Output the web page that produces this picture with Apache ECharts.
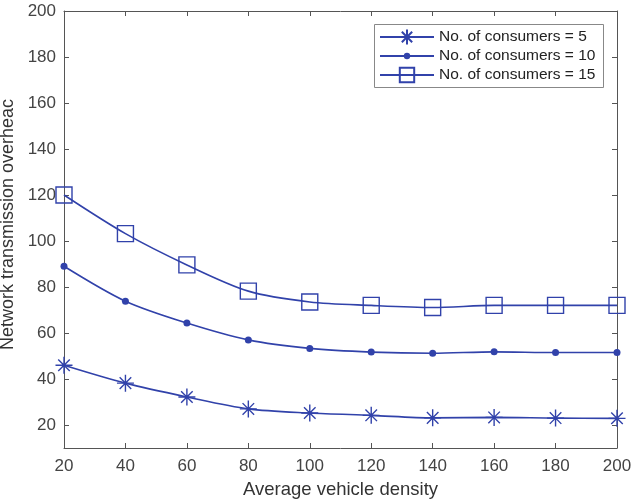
<!DOCTYPE html>
<html>
<head>
<meta charset="utf-8">
<script src="https://cdn.jsdelivr.net/npm/echarts@6/dist/echarts.min.js"></script>
<style>html,body{margin:0;padding:0;background:#fff}#c{width:632px;height:503px}</style>
</head>
<body>
<div id="c"></div>
<script>
const densities = [20, 40, 60, 80, 100, 120, 140, 160, 180, 200];
const consumers5 = [46, 38.2, 32.2, 27, 25.2, 24.2, 23.1, 23.3, 23, 22.9];
const consumers10 = [89, 73.8, 64.3, 57, 53.3, 51.7, 51.2, 51.8, 51.5, 51.5];
const consumers15 = [120, 103.2, 89.6, 78.2, 73.5, 72, 71.1, 72, 72, 72];
const yTicks = [20, 40, 60, 80, 100, 120, 140, 160, 180, 200];
const seriesNames = ['No. of consumers = 5', 'No. of consumers = 10', 'No. of consumers = 15'];

const BLUE = '#3142aa';
const AX = '#555';
const FONT = 'Liberation Sans';
const star = 'path://M5,0L5,10M0,5L10,5M1.6,1.6L8.4,8.4M1.6,8.4L8.4,1.6';

function pairs(vals) { return densities.map((d, i) => [d, vals[i]]); }

const chart = echarts.init(document.getElementById('c'), null, {renderer: 'canvas'});
const baseX = {type: 'value', min: 20, max: 200, interval: 20, splitLine: {show: false},
  axisLine: {lineStyle: {color: AX, width: 1}}, axisTick: {inside: true, length: 5, lineStyle: {color: AX}}};
const baseY = {type: 'value', min: 10, max: 200, splitLine: {show: false},
  axisLine: {show: true, lineStyle: {color: AX, width: 1}},
  axisTick: {show: true, inside: true, length: 5, customValues: yTicks, lineStyle: {color: AX}}};

function legendRow(name, top, itemHeight) {
  return {
    left: 379, top: top, orient: 'vertical', itemWidth: 54, itemHeight: itemHeight, itemGap: 0,
    padding: 0, selectedMode: false,
    textStyle: {fontSize: 15.5, color: '#222', fontFamily: FONT, lineHeight: 18},
    data: [name]
  };
}

chart.setOption({
  animation: false,
  backgroundColor: '#fff',
  textStyle: {fontFamily: FONT},
  grid: {left: 64, right: 15, top: 11, bottom: 55, containLabel: false, outerBoundsMode: 'none'},
  graphic: [{type: 'rect', z: 3, left: 374, top: 24,
    shape: {width: 229, height: 63}, style: {fill: '#fff', stroke: '#888', lineWidth: 1}}],
  legend: [
    legendRow(seriesNames[0], 28, 19),
    legendRow(seriesNames[1], 47, 8),
    legendRow(seriesNames[2], 66, 18)
  ],
  xAxis: [
    Object.assign({}, baseX, {position: 'bottom', name: 'Average vehicle density', nameLocation: 'middle', nameGap: 32,
      nameTextStyle: {fontSize: 18.5, color: '#333', fontFamily: FONT},
      axisLabel: {fontSize: 17, color: '#444', margin: 10, fontFamily: FONT}}),
    Object.assign({}, baseX, {position: 'top', axisLabel: {show: false}})
  ],
  yAxis: [
    Object.assign({}, baseY, {position: 'left', name: 'Network transmission overheac', nameLocation: 'middle', nameGap: 40,
      nameTextStyle: {fontSize: 18, color: '#333', fontFamily: FONT, padding: [0, 0, 0, 10]},
      axisLabel: {fontSize: 17, color: '#444', margin: 8, customValues: yTicks, fontFamily: FONT}}),
    Object.assign({}, baseY, {position: 'right', axisLabel: {show: false}})
  ],
  series: [
    {name: seriesNames[0], type: 'line', data: pairs(consumers5), smooth: 0.3,
      symbol: star, symbolSize: 17, color: BLUE,
      lineStyle: {color: BLUE, width: 1.6},
      itemStyle: {color: 'rgba(0,0,0,0)', borderColor: BLUE, borderWidth: 1.4}},
    {name: seriesNames[1], type: 'line', data: pairs(consumers10), smooth: 0.3,
      symbol: 'circle', symbolSize: 7, color: BLUE,
      lineStyle: {color: BLUE, width: 1.6},
      itemStyle: {color: BLUE, borderColor: BLUE, borderWidth: 0}},
    {name: seriesNames[2], type: 'line', data: pairs(consumers15), smooth: 0.3,
      symbol: 'rect', symbolSize: 16, color: BLUE,
      lineStyle: {color: BLUE, width: 1.6},
      itemStyle: {color: 'rgba(0,0,0,0)', borderColor: BLUE, borderWidth: 1.4}}
  ]
});
</script>
</body>
</html>
